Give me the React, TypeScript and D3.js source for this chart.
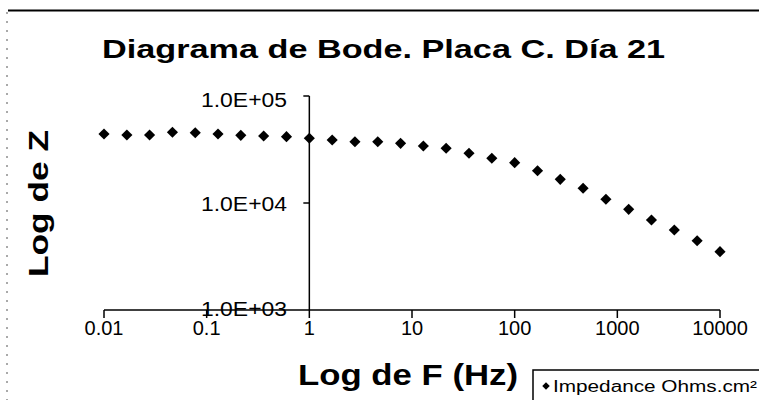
import React from "react";
import * as d3 from "d3";

const frequencies = [
  0.01, 0.0167, 0.0278, 0.0464, 0.0774, 0.129, 0.215, 0.359, 0.599, 1,
  1.67, 2.78, 4.64, 7.74, 12.9, 21.5, 35.9, 59.9, 100, 167, 278, 464, 774,
  1290, 2150, 3590, 5990, 10000,
];
const impedance = [
  44150, 43200, 43200, 45800, 45400, 44150, 42900, 42300, 41700, 40270,
  38800, 37400, 37400, 36100, 34100, 32450, 29140, 26170, 23820, 20040,
  16650, 13720, 10830, 8730, 6940, 5590, 4440, 3510,
];
const xTicks = [0.01, 0.1, 1, 10, 100, 1000, 10000];
const xTickLabels = ["0.01", "0.1", "1", "10", "100", "1000", "10000"];
const yTicks = [1000, 10000, 100000];
const yTickLabels = ["1.0E+03", "1.0E+04", "1.0E+05"];
const title = "Diagrama de Bode. Placa C. Día 21";
const xTitle = "Log de F (Hz)";
const yTitle = "Log de Z";
const seriesName = "Impedance Ohms.cm²";

const FONT = "'Liberation Sans', Arial, Helvetica, sans-serif";

export default function App() {
  const W = 759;
  const H = 400;
  const x = d3.scaleLog().domain([0.01, 10000]).range([104, 720]);
  const y = d3.scaleLog().domain([1000, 100000]).range([310, 96]);
  const diamond = d3.symbol().type(d3.symbolSquare).size(62)();
  const legendDiamond = d3.symbol().type(d3.symbolSquare).size(28)();
  const yAxisX = x(1);
  const xAxisY = y(1000);

  return (
    <svg
      width={W}
      height={H}
      style={{ position: "absolute", left: 0, top: 0, background: "#fff" }}
      fontFamily={FONT}
    >
      <rect x={0} y={0} width={W} height={H} fill="#fff" />
      {/* scan borders */}
      <line x1={8} x2={W} y1={10.5} y2={10.5} stroke="#000" strokeWidth={1.8} />
      <line
        x1={7}
        x2={7}
        y1={12}
        y2={H}
        stroke="#555"
        strokeWidth={1}
        strokeDasharray="2,7"
      />

      {/* title */}
      <text
        x={102}
        y={58}
        fontSize={26}
        fontWeight="bold"
        textLength={563}
        lengthAdjust="spacingAndGlyphs"
      >
        {title}
      </text>

      {/* x axis */}
      <line
        x1={x(0.01)}
        x2={x(10000)}
        y1={xAxisY}
        y2={xAxisY}
        stroke="#000"
        strokeWidth={1.5}
      />
      {xTicks.map((t, i) => (
        <g key={"xt" + i}>
          <line
            x1={x(t)}
            x2={x(t)}
            y1={xAxisY}
            y2={xAxisY + 8}
            stroke="#000"
            strokeWidth={1.5}
          />
          <text x={x(t)} y={335} fontSize={20} textAnchor="middle">
            {xTickLabels[i]}
          </text>
        </g>
      ))}

      {/* y axis */}
      <line
        x1={yAxisX}
        x2={yAxisX}
        y1={y(100000)}
        y2={xAxisY}
        stroke="#000"
        strokeWidth={1.5}
      />
      {yTicks.map((t, i) => (
        <g key={"yt" + i}>
          {t !== 1000 && (
            <line
              x1={yAxisX - 6}
              x2={yAxisX}
              y1={y(t)}
              y2={y(t)}
              stroke="#000"
              strokeWidth={1.5}
            />
          )}
          <text
            x={287}
            y={y(t) + (t === 100000 ? 11 : t === 1000 ? 6 : 8)}
            fontSize={20}
            textAnchor="end"
            textLength={86}
            lengthAdjust="spacingAndGlyphs"
          >
            {yTickLabels[i]}
          </text>
        </g>
      ))}

      {/* axis titles */}
      <text
        x={298}
        y={385}
        fontSize={30}
        fontWeight="bold"
        textLength={220}
        lengthAdjust="spacingAndGlyphs"
      >
        {xTitle}
      </text>
      <text
        transform={`translate(48, 277) rotate(-90)`}
        x={0}
        y={0}
        fontSize={28}
        fontWeight="bold"
        textLength={147}
        lengthAdjust="spacingAndGlyphs"
      >
        {yTitle}
      </text>

      {/* data */}
      {frequencies.map((f, i) => (
        <path
          key={"p" + i}
          d={diamond}
          transform={`translate(${x(f)},${y(impedance[i])}) rotate(45)`}
          fill="#000"
        />
      ))}

      {/* legend */}
      <rect
        x={533}
        y={370}
        width={240}
        height={50}
        fill="#fff"
        stroke="#000"
        strokeWidth={1.5}
      />
      <path
        d={legendDiamond}
        transform="translate(546,386) rotate(45)"
        fill="#000"
      />
      <text
        x={553}
        y={392}
        fontSize={16}
        textLength={204}
        lengthAdjust="spacingAndGlyphs"
      >
        {seriesName}
      </text>
    </svg>
  );
}
